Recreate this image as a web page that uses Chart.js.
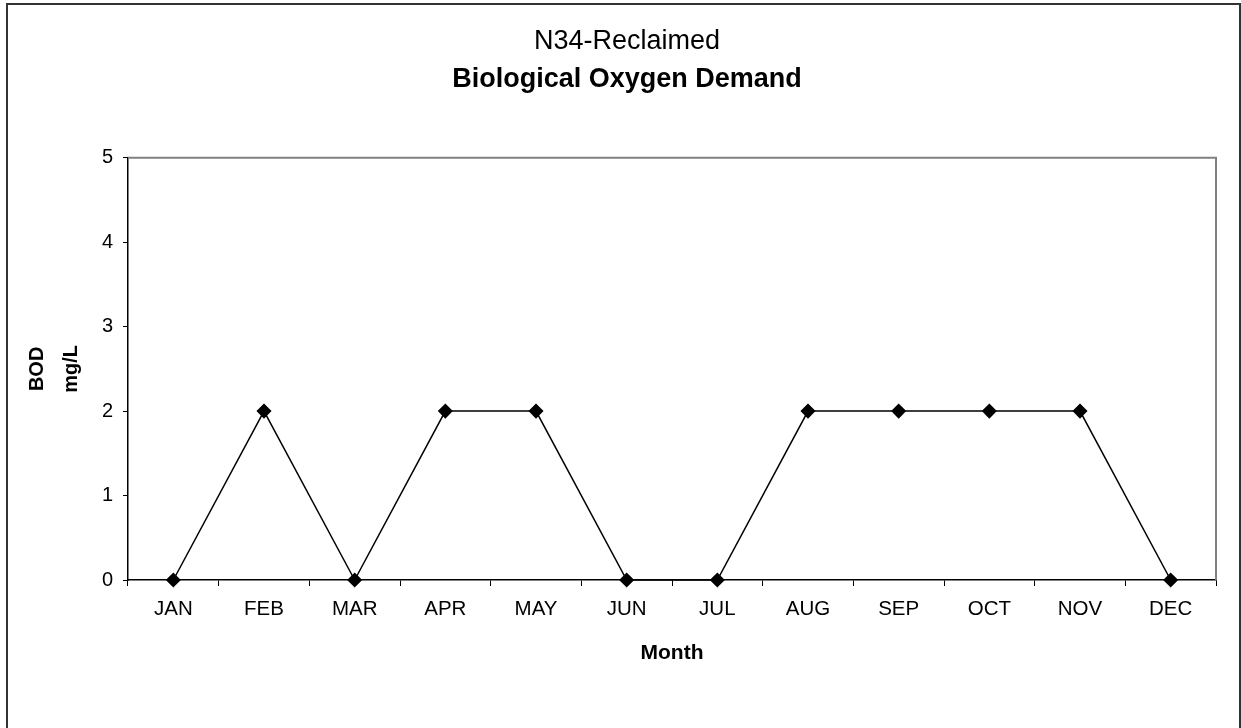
<!DOCTYPE html>
<html>
<head>
<meta charset="utf-8">
<title>N34-Reclaimed BOD</title>
<script src="https://cdn.jsdelivr.net/npm/chart.js@4.4.1/dist/chart.umd.min.js"></script>
<style>
    html, body { margin: 0; padding: 0; background: #fff; }
    #wrap { width: 1241px; height: 728px; }
</style>
</head>
<body>
<div id="wrap"><canvas id="bodChart" width="1241" height="728"></canvas></div>
<script>
// data
const months = ['JAN', 'FEB', 'MAR', 'APR', 'MAY', 'JUN', 'JUL', 'AUG', 'SEP', 'OCT', 'NOV', 'DEC'];
const bodValues = [0, 2, 0, 2, 2, 0, 0, 2, 2, 2, 2, 0];
const yTicks = [0, 1, 2, 3, 4, 5];

const titleText = 'N34-Reclaimed';
const subtitleText = 'Biological Oxygen Demand';
const yTitle = ['BOD', 'mg/L'];
const xTitle = 'Month';

Chart.defaults.font.family = '"Liberation Sans", Arial, sans-serif';
Chart.defaults.color = '#000';

// outer frame + gray top/right edges of the plot area
const framePlugin = {
    id: 'frame',
    beforeDraw(chart) {
        const ctx = chart.ctx;
        ctx.save();
        ctx.fillStyle = '#fff';
        ctx.fillRect(0, 0, chart.width, chart.height);
        ctx.strokeStyle = '#333';
        ctx.lineWidth = 2;
        ctx.strokeRect(7, 4, 1233, 800);
        ctx.restore();
    },
    beforeDatasetsDraw(chart) {
        const {ctx, chartArea} = chart;
        ctx.save();
        ctx.strokeStyle = '#808080';
        ctx.lineWidth = 2;
        ctx.beginPath();
        ctx.moveTo(chartArea.left, chartArea.top);
        ctx.lineTo(chartArea.right, chartArea.top);
        ctx.lineTo(chartArea.right, chartArea.bottom);
        ctx.stroke();
        ctx.restore();
    }
};

new Chart(document.getElementById('bodChart'), {
    type: 'line',
    data: {
        labels: months,
        datasets: [{
            label: 'BOD',
            data: bodValues,
            borderColor: '#000',
            backgroundColor: '#000',
            borderWidth: 1.5,
            pointStyle: 'rectRot',
            pointRadius: 6.5,
            pointBackgroundColor: '#000',
            pointBorderColor: '#000',
            tension: 0,
            clip: false
        }]
    },
    options: {
        responsive: false,
        animation: false,
        // left padding shifts the centred titles to the middle of the frame
        layout: { padding: { left: 38, right: 25, top: 0, bottom: 0 } },
        plugins: {
            legend: { display: false },
            tooltip: { enabled: false },
            title: {
                display: true,
                text: titleText,
                font: { size: 27, weight: 'normal' },
                color: '#000',
                padding: { top: 25, bottom: 0 }
            },
            subtitle: {
                display: true,
                text: subtitleText,
                font: { size: 27, weight: 'bold' },
                color: '#000',
                padding: { top: 6, bottom: 62 }
            }
        },
        scales: {
            x: {
                offset: true,
                grid: {
                    offset: true,
                    drawOnChartArea: false,
                    tickLength: 6,
                    color: '#000'
                },
                border: { color: '#000', width: 1.5 },
                ticks: { font: { size: 20.5 }, padding: 11, color: '#000' },
                title: {
                    display: true,
                    text: xTitle,
                    font: { size: 21, weight: 'bold' },
                    padding: { top: 0, bottom: 62 }
                },
                afterFit(scale) { scale.height = 148; }
            },
            y: {
                min: 0,
                max: 5,
                afterBuildTicks(scale) {
                    scale.ticks = yTicks.map(v => ({ value: v }));
                },
                grid: {
                    drawOnChartArea: false,
                    tickLength: 5,
                    color: '#000'
                },
                border: { color: '#000', width: 1.5 },
                ticks: { font: { size: 20 }, padding: 10, color: '#000' },
                title: {
                    display: true,
                    text: yTitle,
                    font: { size: 20, weight: 'bold', lineHeight: 1.7 },
                    padding: { top: -18, bottom: 0 }
                },
                afterFit(scale) { scale.width = 90; }
            }
        }
    },
    plugins: [framePlugin]
});
</script>
</body>
</html>
